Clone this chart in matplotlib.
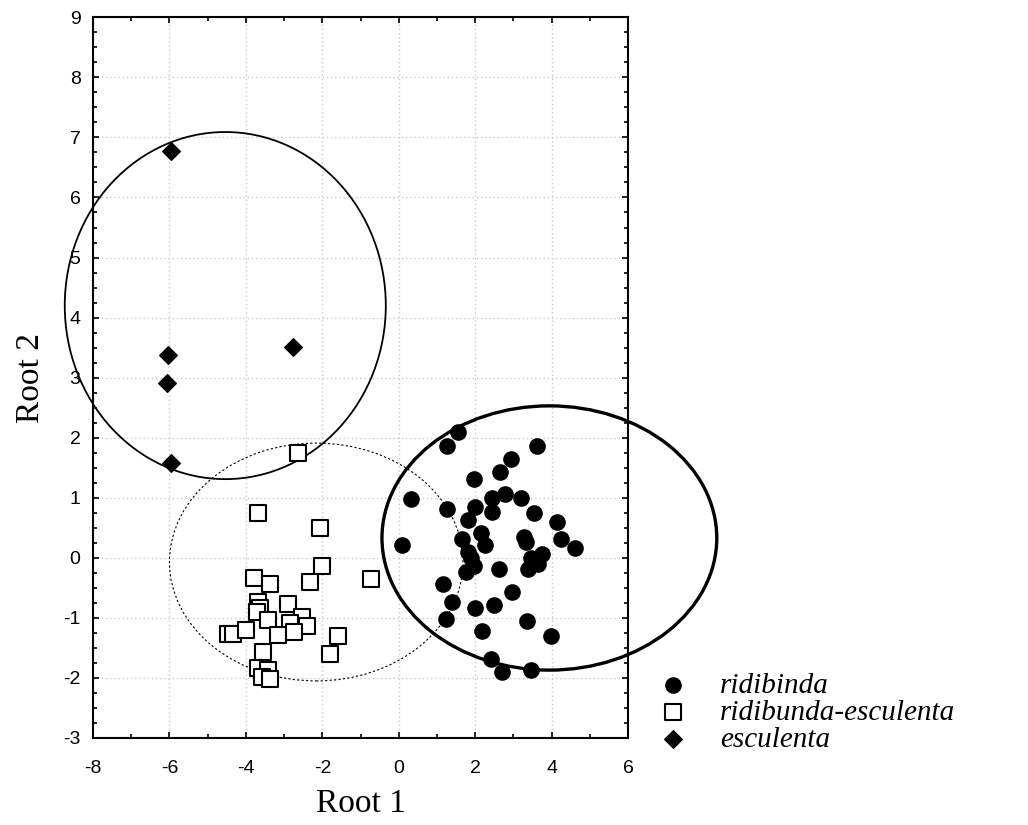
import numpy as np
import matplotlib
matplotlib.use("Agg")
import matplotlib.pyplot as plt
from matplotlib.patches import Ellipse
from matplotlib.ticker import MultipleLocator

# ridibinda (filled circles)
rid_x = [1.55, 1.25, 3.61, 2.93, 2.66, 1.98, 2.45, 2.77, 3.19, 0.31,
         1.25, 1.99, 2.45, 3.55, 1.82, 4.13, 2.14, 1.66, 3.27, 3.32,
         4.24, 2.26, 4.61, 0.09, 1.82, 1.88, 1.97, 1.77, 3.74, 3.46,
         3.63, 3.39, 2.62, 1.15, 2.97, 1.40, 1.99, 2.50, 1.23, 3.35,
         2.19, 3.98, 2.41, 2.71, 3.46]
rid_y = [2.10, 1.87, 1.87, 1.64, 1.43, 1.31, 1.00, 1.07, 1.00, 0.98,
         0.81, 0.84, 0.77, 0.74, 0.63, 0.60, 0.42, 0.32, 0.35, 0.27,
         0.31, 0.22, 0.17, 0.21, 0.10, -0.01, -0.13, -0.23, 0.07, -0.01,
         -0.11, -0.18, -0.19, -0.43, -0.57, -0.73, -0.83, -0.79, -1.02, -1.06,
         -1.22, -1.30, -1.69, -1.90, -1.86]

# ridibunda-esculenta (open squares)
re_x = [-2.65, -3.69, -2.05, -2.00, -3.78, -3.37, -2.32, -0.73, -3.68, -3.63,
        -3.72, -2.89, -2.54, -3.43, -2.85, -2.41, -4.46, -4.33, -4.00, -3.15,
        -2.73, -1.58, -3.55, -1.80, -3.68, -3.41, -3.59, -3.37]
re_y = [1.74, 0.74, 0.50, -0.13, -0.33, -0.44, -0.41, -0.36, -0.73, -0.83,
        -0.90, -0.77, -0.99, -1.04, -1.08, -1.13, -1.27, -1.27, -1.21, -1.28,
        -1.24, -1.30, -1.57, -1.61, -1.83, -1.86, -1.98, -2.01]

# esculenta (diamonds)
esc_x = [-5.97, -6.03, -6.07, -2.77, -5.97]
esc_y = [6.78, 3.37, 2.91, 3.51, 1.58]

# confidence ellipses: centre x, centre y, width, height
ell_rid = (3.94, 0.33, 8.76, 4.40)
ell_re = (-2.16, -0.07, 7.68, 3.96)
ell_esc = (-4.54, 4.20, 8.40, 5.78)

plt.rcParams['font.family'] = ['Liberation Sans', 'DejaVu Sans']
plt.rcParams['axes.unicode_minus'] = False

fig = plt.figure(figsize=(10.28, 8.25), dpi=100)
ax = fig.add_axes([0.0905, 0.1055, 0.5205, 0.8735])

ax.set_xlim(-8, 6)
ax.set_ylim(-3, 9)
ax.xaxis.set_major_locator(MultipleLocator(2))
ax.xaxis.set_minor_locator(MultipleLocator(1))
ax.yaxis.set_major_locator(MultipleLocator(1))
ax.yaxis.set_minor_locator(MultipleLocator(0.25))
ax.tick_params(which='both', direction='in', top=True, right=True,
               labelsize=14, width=1.2)
ax.tick_params(which='major', length=4)
ax.tick_params(which='minor', length=3)
ax.tick_params(axis='x', pad=16)
ax.tick_params(axis='y', pad=9)
for s in ax.spines.values():
    s.set_linewidth(1.5)
ax.grid(True, which='major', color='#c8c8c8', linestyle=(0, (1, 2)), linewidth=1)
ax.set_axisbelow(True)

ax.add_patch(Ellipse(ell_rid[:2], ell_rid[2], ell_rid[3], fill=False,
                     edgecolor='black', linewidth=2.4, clip_on=False, zorder=3))
ax.add_patch(Ellipse(ell_re[:2], ell_re[2], ell_re[3], fill=False,
                     edgecolor='black', linewidth=0.8, linestyle=(0, (2, 2)),
                     clip_on=False, zorder=3))
ax.add_patch(Ellipse(ell_esc[:2], ell_esc[2], ell_esc[3], fill=False,
                     edgecolor='black', linewidth=1.3, clip_on=False, zorder=3))

ax.scatter(rid_x, rid_y, s=120, marker='o', color='black', zorder=4,
           label='ridibinda')
ax.scatter(re_x, re_y, s=125, marker='s', facecolor='white', edgecolor='black',
           linewidths=1.5, zorder=4, label='ridibunda-esculenta')
ax.scatter(esc_x, esc_y, s=80, marker='D', color='black', zorder=4,
           label='esculenta')

ax.set_xlabel('Root 1', family='Liberation Serif', fontsize=24, labelpad=8)
ax.set_ylabel('Root 2', family='Liberation Serif', fontsize=24, labelpad=12)

fig.legend(loc='lower left', bbox_to_anchor=(0.621, 0.073), frameon=False,
           prop={'family': 'Liberation Serif', 'style': 'italic', 'size': 21},
           handletextpad=0.8, labelspacing=0.02, borderaxespad=0,
           handlelength=1.6)

fig.savefig('out.png', dpi=100)
